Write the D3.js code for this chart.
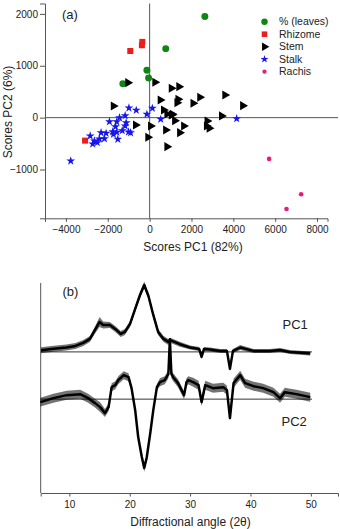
<!DOCTYPE html>
<html>
<head>
<meta charset="utf-8">
<script src="https://cdn.jsdelivr.net/npm/d3@7"></script>
<style>
  body { margin: 0; background: #fff; }
  svg { font-family: "Liberation Sans", Arial, sans-serif; }
</style>
</head>
<body>
<div id="chart"></div>
<script>
// ---- data ----
// panel (a): PCA scores [PC1, PC2]
const leaves = [[2640, 1950], [770, 1330], [-130, 913], [-50, 765], [-1280, 655]];
const rhizome = [[-925, 1285], [-350, 1460], [-370, 1395], [-3085, -443]];
const stem = [[255, 682], [1040, 566], [1400, 597], [510, 341], [1360, 354], [1310, 289],
  [2080, 277], [2400, 393], [3600, 437], [4450, 231], [670, 148], [830, 71], [1090, 65],
  [1040, 52], [1200, -58], [770, -237], [1440, -289], [1630, -160], [2750, -64], [2720, -160],
  [2850, -204], [3440, 33], [-670, -141], [50, -160], [-80, -378], [830, -559], [-1040, 674],
  [-1730, 225]];
const stalk = [[-3770, -835], [-990, 187], [-640, 142], [-1170, 39], [-1440, 0], [-130, 65],
  [530, -31], [130, 181], [4160, -19], [-1920, -77], [-1570, -77], [-1630, -173], [-1120, -96],
  [-1170, -160], [-1760, -270], [-1570, -282], [-1310, -250], [-1010, -276], [-910, -289],
  [-1520, -416], [-1730, -320], [-2080, -301], [-2320, -289], [-2160, -405], [-2400, -410],
  [-2640, -449], [-2840, -353], [-2720, -507], [-2500, -481]];
const rachis = [[5710, -796], [7240, -1476], [6540, -1760]];
const groupNames = ["% (leaves)", "Rhizome", "Stem", "Stalk", "Rachis"];

const scoreXTicks = [-4000, -2000, 0, 2000, 4000, 6000, 8000];
const scoreYTicks = [-1000, 0, 1000, 2000];

// panel (b): loadings vs diffraction angle
const pc1Angle = [5.3, 7, 9.5, 11, 12.3, 13.4, 14.25, 15.0, 15.6, 16.7, 17.6, 18.5, 19.2, 20.05,
  20.9, 21.7, 22.4, 23.1, 23.9, 24.7, 25.6, 26.4, 26.7, 28.3, 30, 31.5, 31.9, 32.3, 33.3, 35,
  36.1, 36.6, 37.1, 38.3, 40.5, 43.2, 44.9, 46.5, 49.9];
const pc1Value = [0.017, 0.03, 0.045, 0.06, 0.09, 0.13, 0.22, 0.30, 0.27, 0.27, 0.23, 0.18, 0.20,
  0.28, 0.43, 0.57, 0.67, 0.56, 0.37, 0.20, 0.13, 0.10, 0.117, 0.077, 0.044, 0.03, -0.05, 0.03,
  0.024, 0.01, 0.01, -0.17, 0.01, 0.044, 0.01, 0.01, 0.02, 0.0, -0.016];
const pc1Noise = [0.03, 0.03, 0.03, 0.03, 0.03, 0.03, 0.035, 0.05, 0.035, 0.03, 0.03, 0.03, 0.03,
  0.03, 0.03, 0.03, 0.035, 0.03, 0.03, 0.03, 0.03, 0.03, 0.025, 0.025, 0.02, 0.02, 0.02, 0.02,
  0.02, 0.02, 0.02, 0.02, 0.02, 0.025, 0.02, 0.02, 0.02, 0.02, 0.02];

const pc2Angle = [5.2, 7.35, 9.57, 11.8, 13.1, 14.25, 15.1, 15.9, 16.5, 17.0, 17.6, 18.1, 19.0,
  19.8, 20.3, 20.9, 21.4, 22.0, 22.4, 22.8, 23.4, 23.9, 24.5, 25.0, 25.8, 26.4, 26.65, 26.9,
  27.2, 28.0, 29.0, 29.4, 29.7, 30.5, 31.4, 31.9, 32.5, 33.8, 35.5, 36.1, 36.6, 37.2, 38.3,
  39.1, 40.5, 42.1, 43.8, 44.9, 45.7, 47.6, 49.9];
const pc2Value = [-0.03, 0.01, 0.04, 0.05, 0.01, -0.04, -0.08, -0.14, -0.08, 0.12, 0.14, 0.19,
  0.24, 0.22, 0.11, -0.11, -0.38, -0.58, -0.69, -0.59, -0.34, -0.11, 0.12, 0.17, 0.19, 0.25,
  0.60, 0.25, 0.22, 0.16, 0.04, 0.17, 0.19, 0.17, 0.14, -0.03, 0.14, 0.11, 0.12, 0.09, -0.19,
  0.16, 0.24, 0.16, 0.13, 0.11, 0.07, 0.01, 0.07, 0.05, 0.02];
const pc2Noise = [0.045, 0.045, 0.045, 0.045, 0.045, 0.045, 0.05, 0.04, 0.04, 0.04, 0.04, 0.04,
  0.04, 0.04, 0.03, 0.03, 0.03, 0.03, 0.04, 0.03, 0.03, 0.03, 0.03, 0.04, 0.04, 0.04, 0.02,
  0.04, 0.04, 0.04, 0.04, 0.04, 0.04, 0.045, 0.045, 0.04, 0.045, 0.045, 0.045, 0.045, 0.03,
  0.045, 0.045, 0.045, 0.045, 0.045, 0.045, 0.045, 0.045, 0.045, 0.045];
const pc1Offset = 0.473; // PC1 trace is stacked above PC2
const angleTicks = [10, 20, 30, 40, 50];

const W = 340, H = 529;
const svg = d3.select("#chart").append("svg").attr("width", W).attr("height", H);

// ---------------- panel (a) ----------------
const x = d3.scaleLinear().domain([-5000, 8500]).range([45, 327.5]);
const y = d3.scaleLinear().domain([-1940, 2200]).range([218.3, 3.5]);
const axisColor = "#555";

// zero lines
svg.append("line").attr("x1", x(-5000)).attr("x2", 338).attr("y1", y(0)).attr("y2", y(0))
  .attr("stroke", axisColor).attr("stroke-width", 1);
svg.append("line").attr("x1", x(0)).attr("x2", x(0)).attr("y1", y(2200)).attr("y2", y(-1940))
  .attr("stroke", axisColor).attr("stroke-width", 1);

// minor ticks then major ticks
const gx = svg.append("g").attr("transform", "translate(0," + y(-1940) + ")");
gx.call(d3.axisBottom(x).tickValues(d3.range(-5000, 8001, 1000)).tickSize(2.5).tickFormat(""));
gx.call(d3.axisBottom(x).tickValues(scoreXTicks).tickSize(3.5).tickPadding(4)
  .tickFormat(d3.format("d")));
const gy = svg.append("g").attr("transform", "translate(" + x(-5000) + ",0)");
gy.call(d3.axisLeft(y).tickValues([-1500, -500, 500, 1500]).tickSize(3).tickFormat(""));
gy.call(d3.axisLeft(y).tickValues(scoreYTicks).tickSize(5).tickPadding(2)
  .tickFormat(d3.format("d")));
[gx, gy].forEach(function (g) {
  g.selectAll("path, line").attr("stroke", axisColor);
  g.selectAll("text").attr("font-size", 10).attr("fill", "#222")
    .attr("font-family", "Liberation Sans, Arial, sans-serif");
});

svg.append("text").attr("x", 193).attr("y", 251).attr("text-anchor", "middle")
  .attr("font-size", 12).attr("fill", "#222").text("Scores PC1 (82%)");
svg.append("text").attr("transform", "translate(11.5,112) rotate(-90)")
  .attr("text-anchor", "middle").attr("font-size", 12).attr("fill", "#222")
  .text("Scores PC2 (6%)");
svg.append("text").attr("x", 62).attr("y", 18.5).attr("font-size", 13).attr("fill", "#222")
  .text("(a)");

// markers
const styles = [
  { data: leaves, type: d3.symbolCircle, size: 38, fill: "#108515", rot: 0 },
  { data: rhizome, type: d3.symbolSquare, size: 36, fill: "#ee1c1c", rot: 0 },
  { data: stem, type: d3.symbolTriangle, size: 36, fill: "#000", rot: 90 },
  { data: stalk, type: d3.symbolStar, size: 24, fill: "#1515ee", rot: 0 },
  { data: rachis, type: d3.symbolCircle, size: 17, fill: "#ea1a7f", rot: 0 }
];
styles.forEach(function (s) {
  svg.append("g").selectAll("path").data(s.data).enter().append("path")
    .attr("d", d3.symbol().type(s.type).size(s.size))
    .attr("transform", function (d) {
      return "translate(" + x(d[0]) + "," + y(d[1]) + ") rotate(" + s.rot + ")";
    })
    .attr("fill", s.fill);
});

// legend
const legend = svg.append("g");
groupNames.forEach(function (name, i) {
  const s = styles[i];
  const ly = 21.7 + i * 12.5;
  legend.append("path")
    .attr("d", d3.symbol().type(s.type).size(i === 3 ? 20 : s.size * 0.85))
    .attr("transform", "translate(264.5," + ly + ") rotate(" + s.rot + ")")
    .attr("fill", s.fill);
  legend.append("text").attr("x", 279).attr("y", ly).attr("dy", "0.35em")
    .attr("font-size", 10.5).attr("fill", "#222").text(name);
});

// ---------------- panel (b) ----------------
const xb = d3.scaleLinear().domain([5.25, 54.5]).range([40.7, 338]);
const yb = d3.scaleLinear().domain([-0.94, 1.163]).range([493, 283]);

svg.append("line").attr("x1", xb(5.25)).attr("x2", xb(5.25)).attr("y1", yb(1.163))
  .attr("y2", yb(-0.94)).attr("stroke", axisColor);

const gxb = svg.append("g").attr("transform", "translate(0," + yb(-0.94) + ")");
gxb.call(d3.axisBottom(xb).tickValues([15, 25, 35, 45]).tickSize(2.5).tickFormat(""));
gxb.call(d3.axisBottom(xb).tickValues(angleTicks).tickSize(3.5).tickPadding(4));
gxb.selectAll("path, line").attr("stroke", axisColor);
gxb.selectAll("text").attr("font-size", 10).attr("fill", "#222")
  .attr("font-family", "Liberation Sans, Arial, sans-serif");

// baselines
[pc1Offset, 0].forEach(function (b) {
  svg.append("line").attr("x1", xb(5.25)).attr("x2", xb(50.2)).attr("y1", yb(b)).attr("y2", yb(b))
    .attr("stroke", "#333").attr("stroke-width", 1);
});

function drawTrace(angles, values, noise, offset) {
  const pts = angles.map(function (a, i) {
    return { a: a, v: values[i] + offset, n: noise[i] };
  });
  svg.append("path").datum(pts)
    .attr("d", d3.area().x(function (d) { return xb(d.a); })
      .y0(function (d) { return yb(d.v - d.n); })
      .y1(function (d) { return yb(d.v + d.n); }))
    .attr("fill", "#000").attr("fill-opacity", 0.55);
  svg.append("path").datum(pts)
    .attr("d", d3.line().x(function (d) { return xb(d.a); }).y(function (d) { return yb(d.v); }))
    .attr("fill", "none").attr("stroke", "#000").attr("stroke-width", 2.5)
    .attr("stroke-linejoin", "round");
}
drawTrace(pc1Angle, pc1Value, pc1Noise, pc1Offset);
drawTrace(pc2Angle, pc2Value, pc2Noise, 0);

svg.append("text").attr("x", 282.5).attr("y", 329).attr("font-size", 13).attr("fill", "#222")
  .text("PC1");
svg.append("text").attr("x", 281.5).attr("y", 425.5).attr("font-size", 13).attr("fill", "#222")
  .text("PC2");
svg.append("text").attr("x", 62.5).attr("y", 296).attr("font-size", 13).attr("fill", "#222")
  .text("(b)");
svg.append("text").attr("x", 190.5).attr("y", 526).attr("text-anchor", "middle")
  .attr("font-size", 12).attr("fill", "#222").text("Diffractional angle (2θ)");
</script>
</body>
</html>
